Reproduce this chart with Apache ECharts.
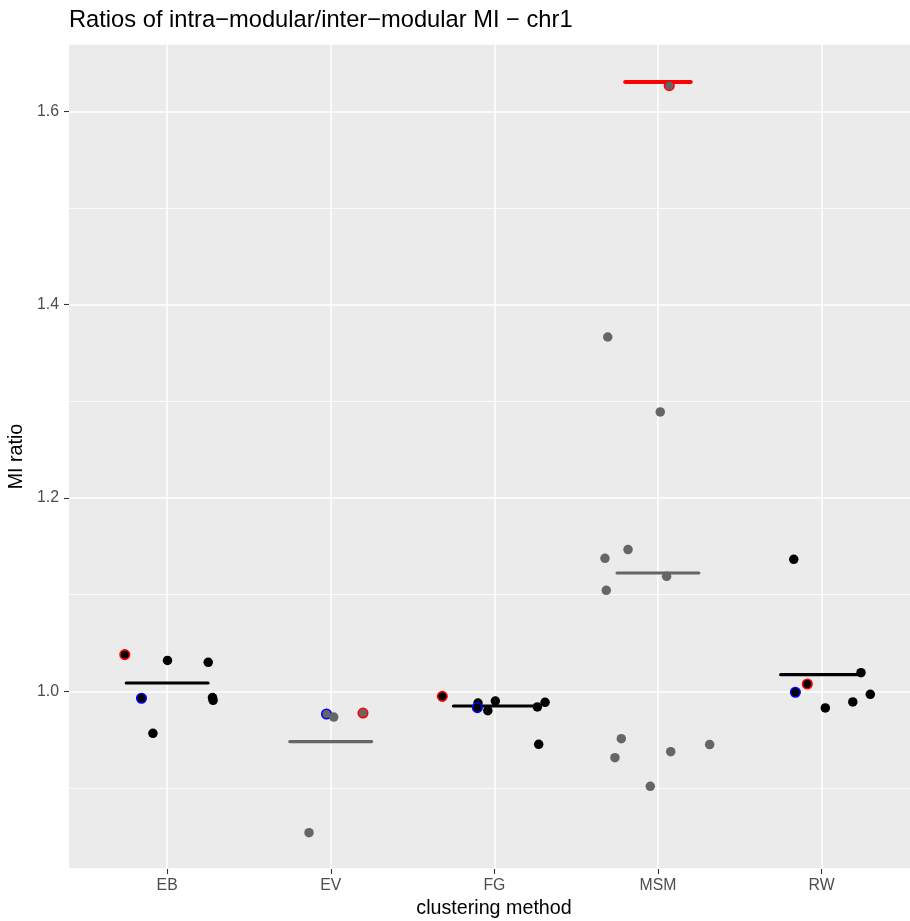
<!DOCTYPE html>
<html>
<head>
<meta charset="utf-8">
<script src="https://cdn.jsdelivr.net/npm/echarts@6/dist/echarts.min.js"></script>
<style>
html, body { margin: 0; padding: 0; background: #fff; }
#main { width: 910px; height: 921px; }
</style>
</head>
<body>
<div id="main"></div>
<script>
// clustering methods on the x axis
var categories = ['EB', 'EV', 'FG', 'MSM', 'RW']

// single points (jitter = horizontal offset from the category)
var pointCat = [
  'EB', 'EB', 'EB', 'EB', 'EB', 'EB', 'EB',
  'EV', 'EV', 'EV', 'EV',
  'FG', 'FG', 'FG', 'FG', 'FG', 'FG', 'FG', 'FG',
  'MSM', 'MSM', 'MSM', 'MSM', 'MSM', 'MSM', 'MSM', 'MSM', 'MSM', 'MSM', 'MSM', 'MSM',
  'RW', 'RW', 'RW', 'RW', 'RW', 'RW', 'RW'
]
var pointJitter = [
  -0.259, 0.002, 0.251, -0.157, 0.277, 0.281, -0.087,
  -0.026, 0.018, 0.197, -0.133,
  -0.318, -0.100, -0.104, -0.040, 0.006, 0.263, 0.310, 0.271,
  -0.307, 0.014, -0.324, -0.183, -0.316, 0.053, -0.224, -0.263, 0.078, 0.316, -0.047, 0.069,
  -0.170, 0.241, -0.087, -0.160, 0.023, 0.191, 0.298
]
var pointValue = [
  1.038, 1.032, 1.030, 0.9928, 0.9935, 0.9907, 0.9566,
  0.9765, 0.9734, 0.9775, 0.8538,
  0.9948, 0.9879, 0.9831, 0.980, 0.990, 0.9838, 0.9886, 0.9452,
  1.3665, 1.289, 1.1376, 1.1466, 1.1045, 1.119, 0.951, 0.9314, 0.9376, 0.9449, 0.9017, 1.6265,
  1.1365, 1.0193, 1.0076, 0.999, 0.9828, 0.989, 0.9969
]
// highlighted samples: 'r' = red ring, 'b' = blue ring
var pointMark = [
  'r', '', '', 'b', '', '', '',
  'b', '', 'r', '',
  'r', '', 'b', '', '', '', '', '',
  '', '', '', '', '', '', '', '', '', '', '', 'r',
  '', '', 'r', 'b', '', '', ''
]

// horizontal summary bars
var barCat = ['EB', 'EV', 'FG', 'MSM', 'RW', 'MSM']
var barValue = [1.0086, 0.948, 0.9848, 1.1224, 1.0172, 1.6303]
var barKind = ['mean', 'mean', 'mean', 'mean', 'mean', 'ref']

var yMin = 0.8162
var yMax = 1.6696

// styles
var fillByCat = { EB: '#000000', EV: '#666666', FG: '#000000', MSM: '#666666', RW: '#000000' }
var ringColor = { r: '#FF0000', b: '#0000FF' }
var barStyle = {
  mean: { half: 0.25, width: 3.2 },
  ref: { half: 0.2, width: 4.2, color: '#FF0000' }
}
var tickColor = '#4D4D4D'
var font = 'Liberation Sans, Helvetica, Arial, sans-serif'

var chart = echarts.init(document.getElementById('main'), null, { renderer: 'canvas' })

var series = []
for (var i = 0; i < barCat.length; i++) {
  var c = categories.indexOf(barCat[i])
  var st = barStyle[barKind[i]]
  series.push({
    type: 'line',
    silent: true,
    symbol: 'none',
    clip: false,
    z: 2,
    data: [[c - st.half, barValue[i]], [c + st.half, barValue[i]]],
    lineStyle: { color: st.color || fillByCat[barCat[i]], width: st.width, cap: 'round', opacity: 1 }
  })
}

var pts = []
for (i = 0; i < pointCat.length; i++) {
  var ci = categories.indexOf(pointCat[i])
  var fill = fillByCat[pointCat[i]]
  var m = pointMark[i]
  pts.push({
    value: [ci + pointJitter[i], pointValue[i]],
    itemStyle: m ? { color: fill, opacity: 1, borderColor: ringColor[m], borderWidth: 1.6 } : { color: fill, opacity: 1 }
  })
}
series.push({
  type: 'scatter',
  silent: true,
  clip: false,
  z: 3,
  symbolSize: 9.5,
  itemStyle: { opacity: 1 },
  data: pts
})

var option = {
  animation: false,
  backgroundColor: '#ffffff',
  textStyle: { fontFamily: font },
  title: {
    text: 'Ratios of intra\u2212modular/inter\u2212modular MI \u2212 chr1',
    left: 64,
    top: 3,
    textStyle: { fontSize: 23.7, fontWeight: 'normal', color: '#000', fontFamily: font }
  },
  grid: {
    left: 69, right: 0, top: 44, bottom: 52,
    outerBoundsMode: 'none',
    containLabel: false,
    show: true, backgroundColor: '#EBEBEB', borderWidth: 0
  },
  xAxis: {
    type: 'value',
    min: -0.6,
    max: -0.6 + 841 / 163.6,
    name: 'clustering method',
    nameLocation: 'middle',
    nameGap: 30,
    nameTextStyle: { fontSize: 19.7, color: '#000', fontFamily: font, padding: [0, 0, 0, 9] },
    axisLine: { show: false, onZero: false },
    axisTick: { show: true, length: 5, lineStyle: { color: '#333', width: 1.1 }, customValues: [0, 1, 2, 3, 4] },
    axisLabel: {
      color: tickColor, fontSize: 15.8, margin: 9, fontFamily: font,
      customValues: [0, 1, 2, 3, 4],
      formatter: function (v) { return Math.abs(v - Math.round(v)) < 1e-6 ? (categories[Math.round(v)] || '') : '' }
    },
    splitLine: { show: true, lineStyle: { color: '#FFFFFF', width: 1.5 } }
  },
  yAxis: {
    type: 'value',
    min: yMin,
    max: yMax,
    name: 'MI ratio',
    nameLocation: 'middle',
    nameGap: 33,
    nameTextStyle: { fontSize: 19.7, color: '#000', fontFamily: font },
    axisLine: { show: false, onZero: false },
    axisTick: { show: true, length: 5, lineStyle: { color: '#333', width: 1.1 } },
    axisLabel: {
      color: tickColor, fontSize: 15.8, margin: 10, fontFamily: font,
      showMinLabel: false, showMaxLabel: false,
      formatter: function (v) { return v.toFixed(1) }
    },
    splitLine: { show: true, lineStyle: { color: '#FFFFFF', width: 1.5 } },
    minorTick: { show: false, splitNumber: 2 },
    minorSplitLine: { show: true, lineStyle: { color: '#FFFFFF', width: 0.8 } }
  },
  series: series
}

chart.setOption(option)
</script>
</body>
</html>
